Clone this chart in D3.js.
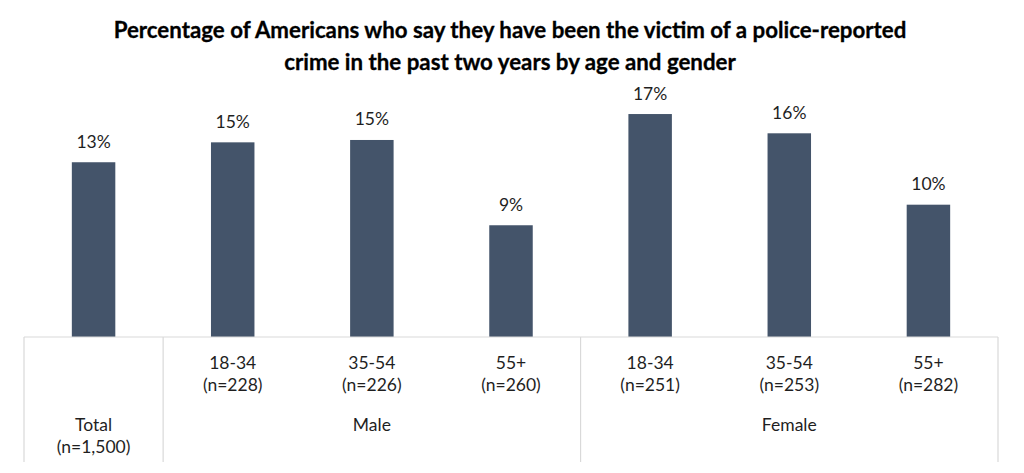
<!DOCTYPE html>
<html>
<head>
<meta charset="utf-8">
<script src="https://cdn.jsdelivr.net/npm/d3@7"></script>
<style>
  html, body { margin: 0; padding: 0; background: #ffffff; }
  svg { display: block; }
  text { font-family: Lato, "Open Sans", sans-serif; }
</style>
</head>
<body>
<svg id="chart" width="1024" height="473"></svg>
<script>
// ---- data ----
const titleLines = [
  "Percentage of Americans who say they have been the victim of a police-reported",
  "crime in the past two years by age and gender"
];
const ageLabels = ["", "18-34", "35-54", "55+", "18-34", "35-54", "55+"];
const sampleLabels = ["", "(n=228)", "(n=226)", "(n=260)", "(n=251)", "(n=253)", "(n=282)"];
const values = [0.1334, 0.1486, 0.1504, 0.0853, 0.1702, 0.1555, 0.1010];
const groups = [
  { name: "Total", sub: "(n=1,500)", from: 0, to: 0 },
  { name: "Male", sub: "", from: 1, to: 3 },
  { name: "Female", sub: "", from: 4, to: 6 }
];

// ---- layout ----
const W = 1024, H = 473;
const left = 24, right = 998, baseY = 337, tableBottom = 462;
const svg = d3.select("#chart");

const x = d3.scaleBand()
  .domain(d3.range(values.length))
  .range([left, right])
  .paddingInner(0.6875)
  .paddingOuter(0.34375);
const step = x.step();
const catCenter = i => x(i) + x.bandwidth() / 2;

const y = d3.scaleLinear().domain([0, 0.20]).range([baseY, baseY - 262]);
const fmt = d3.format(".0%");

// title
const title = svg.append("g");
const tLines = title.selectAll("text").data(titleLines).join("text")
  .attr("x", 510)
  .attr("y", (d, i) => 38 + i * 32)
  .attr("text-anchor", "middle")
  .attr("font-weight", 700)
  .attr("font-size", 21)
  .attr("fill", "#000")
  .attr("stroke", "#000")
  .attr("stroke-width", 0.3)
  .text(d => d);
// fit font size so first line matches reference width
const w0 = tLines.nodes()[0].getComputedTextLength();
const fs = 21 * 793 / w0;
tLines.attr("font-size", fs);

// bars
svg.append("g").selectAll("rect").data(values).join("rect")
  .attr("x", (d, i) => x(i))
  .attr("y", d => y(d))
  .attr("width", x.bandwidth())
  .attr("height", d => baseY - y(d))
  .attr("fill", "#44546A");

// value labels
svg.append("g").selectAll("text").data(values).join("text")
  .attr("x", (d, i) => catCenter(i))
  .attr("y", d => y(d) - 14.5)
  .attr("text-anchor", "middle")
  .attr("font-size", 17.5)
  .attr("fill", "#1f1f1f")
  .text(d => fmt(d));

// table lines
const grid = svg.append("g").attr("stroke", "#D9D9D9").attr("stroke-width", 1.2);
grid.append("line").attr("x1", left).attr("x2", right).attr("y1", baseY).attr("y2", baseY);
const dividers = [left].concat(groups.map(g => x(g.to) + x.bandwidth() / 2 + step / 2));
grid.selectAll("line.v").data(dividers).join("line").attr("class", "v")
  .attr("x1", d => d).attr("x2", d => d)
  .attr("y1", baseY).attr("y2", tableBottom);

// category labels
const lab = svg.append("g").attr("font-size", 17.5).attr("fill", "#1f1f1f").attr("text-anchor", "middle");
lab.selectAll("text.age").data(ageLabels).join("text").attr("class", "age")
  .attr("x", (d, i) => catCenter(i)).attr("y", 369).text(d => d);
lab.selectAll("text.n").data(sampleLabels).join("text").attr("class", "n")
  .attr("x", (d, i) => catCenter(i)).attr("y", 391).text(d => d);
lab.selectAll("text.grp").data(groups).join("text").attr("class", "grp")
  .attr("x", g => (x(g.from) + x(g.to) + x.bandwidth()) / 2).attr("y", 431).text(g => g.name);
lab.selectAll("text.gsub").data(groups.filter(g => g.sub)).join("text").attr("class", "gsub")
  .attr("x", g => (x(g.from) + x(g.to) + x.bandwidth()) / 2).attr("y", 453).text(g => g.sub);
</script>
</body>
</html>
